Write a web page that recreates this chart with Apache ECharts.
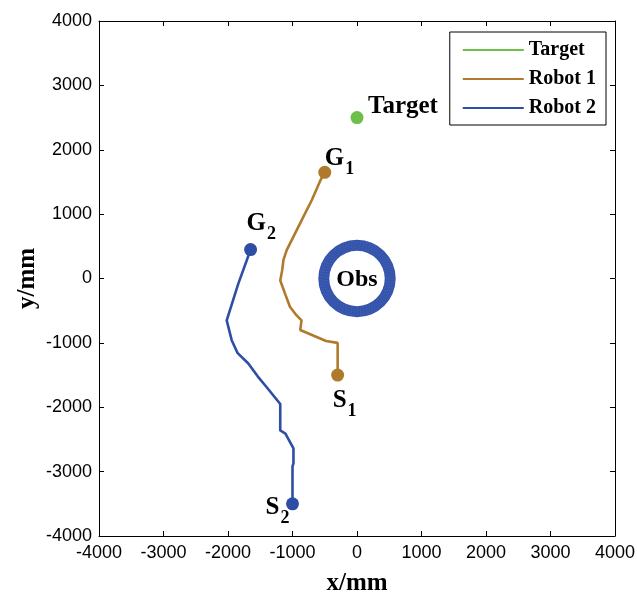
<!DOCTYPE html>
<html><head><meta charset="utf-8">
<script src="https://cdn.jsdelivr.net/npm/echarts@6/dist/echarts.min.js"></script>
<style>html,body{margin:0;padding:0;background:#fff}#c{width:637px;height:597px}</style>
</head><body><div id="c"></div>
<script>
const xTicks = [-4000,-3000,-2000,-1000,0,1000,2000,3000,4000];
const yTicks = [-4000,-3000,-2000,-1000,0,1000,2000,3000,4000];
const target = [[0, 2500]];
const robot1 = [[-300,-1500],[-300,-1000],[-480,-970],[-880,-800],[-860,-650],[-940,-570],[-1040,-440],[-1110,-250],[-1190,-30],[-1160,130],[-1140,290],[-1090,440],[-960,700],[-830,960],[-700,1220],[-570,1520],[-500,1650]];
const robot2 = [[-1000,-3500],[-1000,-2920],[-985,-2870],[-985,-2640],[-1110,-2410],[-1190,-2360],[-1190,-1950],[-1400,-1690],[-1540,-1520],[-1685,-1320],[-1850,-1160],[-1943,-958],[-2020,-650],[-1840,-80],[-1710,280],[-1650,450]];
const obstacle = [[0, 0, 600, 430]];
const pointLabels = [
  {name:'Target', xy:[0,2500], text:'{m|Target}', pos:[11,-11]},
  {name:'G1', xy:[-500,1650], text:'{m|G}{s|1}', pos:[0,-14]},
  {name:'G2', xy:[-1650,450], text:'{m|G}{s|2}', pos:[-4,-26]},
  {name:'S1', xy:[-300,-1500], text:'{m|S}{s|1}', pos:[-5,25]},
  {name:'S2', xy:[-1000,-3500], text:'{m|S}{s|2}', pos:[-27,4]}
];
const cGreen = '#6cbf48', cBrown = '#b07a2c', cBlue = '#2e4ea6';
const chart = echarts.init(document.getElementById('c'), null, {renderer:'canvas'});
const serif = '"Liberation Serif","DejaVu Serif",serif';
const sans = '"Liberation Sans",Arial,sans-serif';
function axisCommon(extra){
  return Object.assign({
    type:'value', min:-4000, max:4000, interval:1000,
    axisLine:{show:true, onZero:false, lineStyle:{color:'#000', width:1}},
    axisTick:{show:true, inside:true, length:5, lineStyle:{color:'#000'}},
    splitLine:{show:false},
    axisLabel:{color:'#000', fontFamily:sans, fontSize:18, formatter:v=>String(v)}
  }, extra);
}
const markerData = [
  {value:[0,2500], itemStyle:{color:cGreen}},
  {value:[-500,1650], itemStyle:{color:cBrown}},
  {value:[-300,-1500], itemStyle:{color:cBrown}},
  {value:[-1650,450], itemStyle:{color:cBlue}},
  {value:[-1000,-3500], itemStyle:{color:cBlue}}
];
chart.setOption({
  animation:false,
  grid:{left:99, right:22, top:21, bottom:61, containLabel:false, outerBoundsMode:'none'},
  xAxis:[
    axisCommon({position:'bottom', name:'x/mm', nameLocation:'middle', nameGap:35, nameMoveOverlap:false,
      nameTextStyle:{fontFamily:serif, fontWeight:'bold', fontSize:25, color:'#000'},
      axisLabel:{color:'#000', fontFamily:sans, fontSize:18, margin:8, formatter:v=>String(v)}}),
    axisCommon({position:'top', axisLabel:{show:false}})
  ],
  yAxis:[
    axisCommon({position:'left', name:'y/mm', nameLocation:'middle', nameGap:59, nameMoveOverlap:false,
      nameTextStyle:{fontFamily:serif, fontWeight:'bold', fontSize:25, color:'#000'},
      axisLabel:{color:'#000', fontFamily:sans, fontSize:18, margin:7, formatter:v=>String(v)}}),
    axisCommon({position:'right', axisLabel:{show:false}})
  ],
  legend:{
    right:31, top:32, orient:'vertical', itemWidth:61, itemHeight:8, itemGap:9,
    backgroundColor:'#fff', borderColor:'#000', borderWidth:1, borderRadius:0,
    padding:[8,10,7,12],
    itemStyle:{opacity:0},
    textStyle:{fontFamily:serif, fontWeight:'bold', fontSize:20, color:'#000'},
    data:['Target','Robot 1','Robot 2']
  },
  series:[
    {type:'custom', name:'Obs', coordinateSystem:'cartesian2d', data:obstacle, silent:true,
      renderItem:function(params, api){
        const c = api.coord([api.value(0), api.value(1)]);
        const r = api.size([api.value(2),0])[0];
        const r0 = api.size([api.value(3),0])[0];
        const children = [{type:'ring', shape:{cx:c[0], cy:c[1], r:r, r0:r0}, style:{fill:'#3453aa'}}];
        for (let k=1;k<6;k++){
          const rr = r0 + (r-r0)*k/6;
          children.push({type:'circle', shape:{cx:c[0], cy:c[1], r:rr}, style:{fill:'none', stroke:'#5a74c0', lineWidth:0.6, lineDash:[1,2]}});
        }
        children.push({type:'text', style:{text:'Obs', x:c[0], y:c[1]+1, align:'center', verticalAlign:'middle', font:'bold 24px '+serif, fill:'#000'}});
        return {type:'group', children:children};
      }},
    {type:'line', name:'Target', data:target, symbol:'none', lineStyle:{color:cGreen, width:1}, itemStyle:{color:cGreen}},
    {type:'line', name:'Robot 1', data:robot1, symbol:'none', lineStyle:{color:cBrown, width:2.6}, itemStyle:{color:cBrown}},
    {type:'line', name:'Robot 2', data:robot2, symbol:'none', lineStyle:{color:cBlue, width:2.6}, itemStyle:{color:cBlue}},
    {type:'scatter', name:'markers', data:markerData, symbol:'circle', symbolSize:13, z:5, itemStyle:{opacity:1}},
    {type:'scatter', name:'labels', symbolSize:0, z:6, itemStyle:{opacity:1},
      data: pointLabels.map(p=>({value:p.xy, label:{show:true, position:'inside', offset:p.pos, formatter:p.text}})),
      label:{show:true, color:'#000', align:'left', opacity:1,
        rich:{
          m:{fontFamily:serif, fontWeight:'bold', fontSize:25, color:'#000', lineHeight:28},
          s:{fontFamily:serif, fontWeight:'bold', fontSize:18, color:'#000', lineHeight:28, padding:[22,0,0,1]}
        }}}
  ]
});
</script></body></html>
